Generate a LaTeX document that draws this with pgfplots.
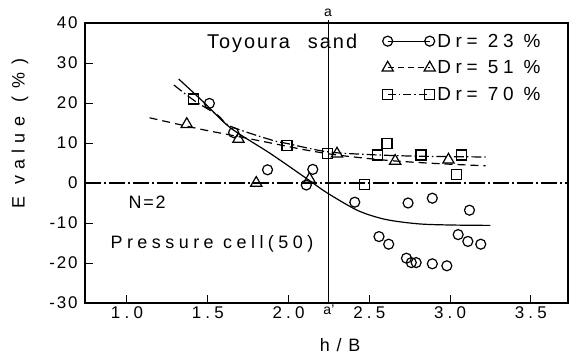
\documentclass[border=0pt]{standalone}
\usepackage{pgfplots}
\pgfplotsset{compat=1.18}
\usepackage{fontspec}
\setmainfont{Liberation Sans}
\newfontfamily\fA{Liberation Sans}[LetterSpace=25]
\newfontfamily\fB{Liberation Sans}[LetterSpace=10]
\newfontfamily\fC{Liberation Sans}[LetterSpace=35]
\begin{document}
\begin{tikzpicture}
\path[use as bounding box] (-85bp,-57bp) rectangle (485bp,303bp);
\begin{axis}[
  at={(0,0)}, anchor=south west,
  scale only axis, width=483bp, height=280bp,
  xmin=0.74, xmax=3.73, ymin=-30, ymax=40,
  axis line style={line width=1.2bp},
  tick style={line width=1bp, black},
  tick pos=left, tick align=inside, major tick length=8bp,
  xtick={1,1.5,2,2.5,3,3.5}, xticklabels={1.0,1.5,2.0,2.5,3.0,3.5},
  ytick={-30,-20,-10,0,10,20,30,40},
  yticklabels={-{\kern2bp}30,-{\kern2bp}20,-10,0,10,20,30,40},
  xticklabel style={font=\fontsize{17}{18}\fA},
  yticklabel style={font=\fontsize{17}{18}\fB, xshift=-4bp},
  /pgf/number format/assume math mode=true,
  xlabel={h / B},
  xlabel style={at={(rel axis cs:0.528,0)}, anchor=base, yshift=-48bp, font=\fontsize{18}{20}\fB},
  ylabel={E value\hspace{0.8em}(\hspace{0.45em}\%\hspace{0.45em})},
  ylabel style={at={(axis cs:0.3375,12.4)}, anchor=center, font=\fontsize{18}{20}\fC},
  clip=false,
  legend style={at={(axis cs:2.579,37.8)}, anchor=north west, draw=none, fill=none,
    inner sep=0pt, outer sep=0pt, row sep=8bp, font=\fontsize{19}{20}\fA,
    nodes={inner sep=2bp}},
  legend cell align=left,
  legend image code/.code={\draw[#1] plot coordinates {(0bp,0bp) (42bp,0bp)};},
]
% legend images
\addlegendimage{solid, line width=1.2bp, mark=o, mark size=5bp, mark options={solid}}
\addlegendentry{Dr= 23 \%}
\addlegendimage{dash pattern=on 6bp off 4bp, line width=1.2bp, mark=triangle, mark size=6.5bp, mark options={solid}}
\addlegendentry{Dr= 51 \%}
\addlegendimage{dash pattern=on 8bp off 3bp on 1.5bp off 3bp, line width=1.2bp, mark=square, mark size=5bp, mark options={solid}}
\addlegendentry{Dr= 70 \%}

% reference lines
\addplot[forget plot, line width=1.1bp, dash pattern=on 16bp off 3bp on 2bp off 3bp] coordinates {(0.74,0) (3.73,0)};
\addplot[forget plot, line width=1.1bp] coordinates {(2.245,-30) (2.245,40.8)};

% fitted curves
\addplot[forget plot, smooth, line width=1.2bp] coordinates {
 (1.32,26) (1.48,20) (1.64,13.8) (1.89,7.3) (2.13,0.6) (2.24,-2.5) (2.43,-6.9)
 (2.6,-9.1) (2.8,-10.2) (3.0,-10.5) (3.25,-10.6)};
\addplot[forget plot, smooth, line width=1.2bp, dash pattern=on 8bp off 5bp] coordinates {
 (1.14,16.3) (1.45,13.5) (1.64,12.0) (1.89,10.0) (2.1,8.3) (2.3,7.0) (2.6,5.7) (2.9,4.9) (3.22,4.3)};
\addplot[forget plot, smooth, line width=1.2bp, dash pattern=on 10bp off 3bp on 1.5bp off 3bp] coordinates {
 (1.29,24.5) (1.42,20.5) (1.56,17.0) (1.64,14.2) (1.89,10.8) (2.0,9.8) (2.24,7.8) (2.5,7.1) (2.8,6.7) (3.22,6.5)};

% data
\addplot[forget plot, only marks, mark=o, mark size=5bp, line width=1.2bp] coordinates {
 (1.51,19.9) (1.66,12.6) (1.87,3.3) (2.11,-0.5) (2.15,3.4) (2.41,-4.8) (2.56,-13.4)
 (2.62,-15.3) (2.73,-18.8) (2.76,-19.9) (2.79,-19.9) (2.74,-5.0) (2.89,-3.8) (2.89,-20.2)
 (2.98,-20.7) (3.05,-12.9) (3.11,-14.6) (3.12,-6.8) (3.19,-15.3)};
\addplot[forget plot, only marks, mark=triangle, mark size=6.5bp, line width=1.2bp] coordinates {
 (1.37,14.7) (1.69,11.0) (1.80,0.0) (2.13,1.0) (2.30,7.3) (2.66,5.5) (2.99,5.8)};
\addplot[forget plot, only marks, mark=square, mark size=5bp, line width=1.2bp, fill=white] coordinates {
 (1.41,21.0) (1.99,9.4) (2.24,7.3) (2.47,-0.3) (2.55,7.0) (2.61,9.9) (2.82,7.0) (3.04,2.2) (3.07,7.0)};

% annotations
\node[anchor=base west, inner sep=0pt, font=\fontsize{20}{22}\fB] at (axis cs:1.495,33.75) {Toyoura\hspace{0.9em}sand};
\node[anchor=base, inner sep=0pt, font=\fontsize{18}{20}\fB] at (axis cs:1.124,-6.3) {N=2};
\node[anchor=base, inner sep=0pt, font=\fontsize{18}{20}\fA] at (axis cs:1.526,-16.4) {Pressure cell(50)};
\node[anchor=base, inner sep=0pt, font=\fontsize{14}{16}\selectfont] at (axis cs:2.245,41.6) {a};
\node[anchor=north, inner sep=0pt, font=\fontsize{14}{16}\selectfont] at (axis cs:2.25,-30.4) {a'};
\end{axis}
\end{tikzpicture}
\end{document}
